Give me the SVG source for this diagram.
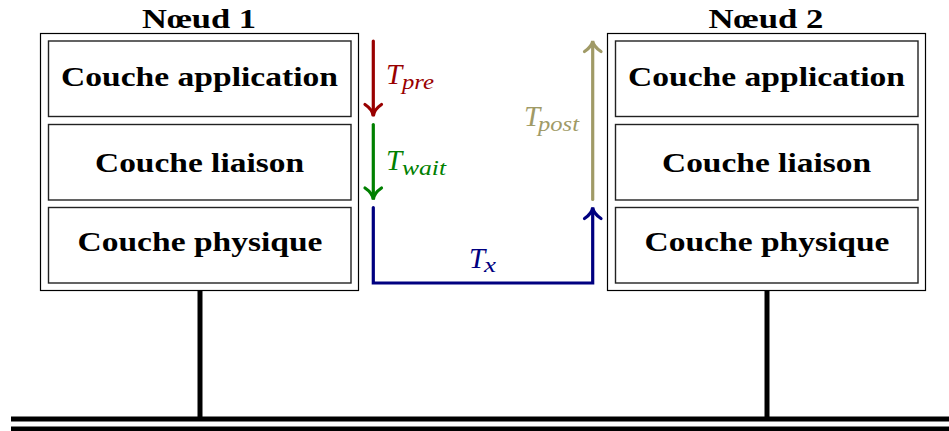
<svg xmlns="http://www.w3.org/2000/svg" width="949" height="431" viewBox="0 0 949 431">
<style>
.outer{fill:#fff;stroke:#000;stroke-width:1.2}
.inner{fill:#fff;stroke:#222;stroke-width:1.4}
.lbl{font-family:"Liberation Serif","DejaVu Serif",serif;font-weight:bold;font-size:27px;fill:#000;text-anchor:middle}
.m{font-family:"Liberation Serif","DejaVu Serif",serif;font-style:italic;font-size:29px}
.s{font-family:"Liberation Serif","DejaVu Serif",serif;font-style:italic;font-size:21px}
.arr{fill:none;stroke-width:3.2;stroke-linecap:round;stroke-linejoin:miter}
.wire{stroke:#000;stroke-width:5}
</style>
<g id="bus">
<line class="wire" x1="11" y1="419" x2="949" y2="419" stroke-width="6"/>
<line class="wire" x1="11" y1="429" x2="949" y2="429" stroke-width="5"/>
<line class="wire" x1="200" y1="290" x2="200" y2="417"/>
<line class="wire" x1="767" y1="290" x2="767" y2="417"/>
</g>
<g id="node1">
<rect class="outer" x="40.5" y="33.5" width="318" height="257"/>
<rect class="inner" x="48.5" y="41" width="302.5" height="75.5"/>
<rect class="inner" x="48.5" y="124.5" width="302.5" height="75.5"/>
<rect class="inner" x="48.5" y="207.5" width="302.5" height="75.5"/>
<text class="lbl" x="199" y="27.5" textLength="114" lengthAdjust="spacingAndGlyphs">Nœud 1</text>
<text class="lbl" x="199.5" y="86" textLength="277" lengthAdjust="spacingAndGlyphs">Couche application</text>
<text class="lbl" x="199.5" y="171.5" textLength="209" lengthAdjust="spacingAndGlyphs">Couche liaison</text>
<text class="lbl" x="200" y="250.5" textLength="245" lengthAdjust="spacingAndGlyphs">Couche physique</text>
</g>
<g id="node2">
<rect class="outer" x="607.5" y="33.5" width="318" height="257"/>
<rect class="inner" x="615.5" y="41" width="302.5" height="75.5"/>
<rect class="inner" x="615.5" y="124.5" width="302.5" height="75.5"/>
<rect class="inner" x="615.5" y="207.5" width="302.5" height="75.5"/>
<text class="lbl" x="766" y="27.5" textLength="115" lengthAdjust="spacingAndGlyphs">Nœud 2</text>
<text class="lbl" x="766.5" y="86" textLength="277" lengthAdjust="spacingAndGlyphs">Couche application</text>
<text class="lbl" x="766.5" y="171.5" textLength="209" lengthAdjust="spacingAndGlyphs">Couche liaison</text>
<text class="lbl" x="767" y="250.5" textLength="245" lengthAdjust="spacingAndGlyphs">Couche physique</text>
</g>
<g id="connectors">
<g stroke="#990000" class="arr">
<line x1="373.3" y1="41" x2="373.3" y2="115"/>
<path d="M365,104.5 Q372.5,109.5 373.3,116 Q374.1,109.5 381.5,104.5"/>
</g>
<g fill="#990000">
<text class="m" x="386" y="83.5">T</text>
<text class="s" x="402" y="89" textLength="32" lengthAdjust="spacingAndGlyphs">pre</text>
</g>
<g stroke="#008000" class="arr">
<line x1="373.3" y1="124.5" x2="373.3" y2="198"/>
<path d="M365,188 Q372.5,193 373.3,199.5 Q374.1,193 381.5,188"/>
</g>
<g fill="#008000">
<text class="m" x="386" y="169.5">T</text>
<text class="s" x="402" y="175" textLength="44" lengthAdjust="spacingAndGlyphs">wait</text>
</g>
<g stroke="#000080" class="arr">
<polyline points="373.3,207.5 373.3,283 592.7,283 592.7,209"/>
<path d="M584.5,218.5 Q592,213.5 592.7,207.5 Q593.4,213.5 601,218.5"/>
</g>
<g fill="#000080">
<text class="m" x="469" y="267.5">T</text>
<text class="s" x="484" y="272" textLength="12" lengthAdjust="spacingAndGlyphs">x</text>
</g>
<g stroke="#a09a66" class="arr">
<line x1="592.7" y1="199.5" x2="592.7" y2="43"/>
<path d="M584.5,51.5 Q592,46.5 592.7,41 Q593.4,46.5 601,51.5"/>
</g>
<g fill="#a09a66">
<text class="m" x="524" y="126">T</text>
<text class="s" x="538" y="131" textLength="41" lengthAdjust="spacingAndGlyphs">post</text>
</g>
</g>
</svg>
